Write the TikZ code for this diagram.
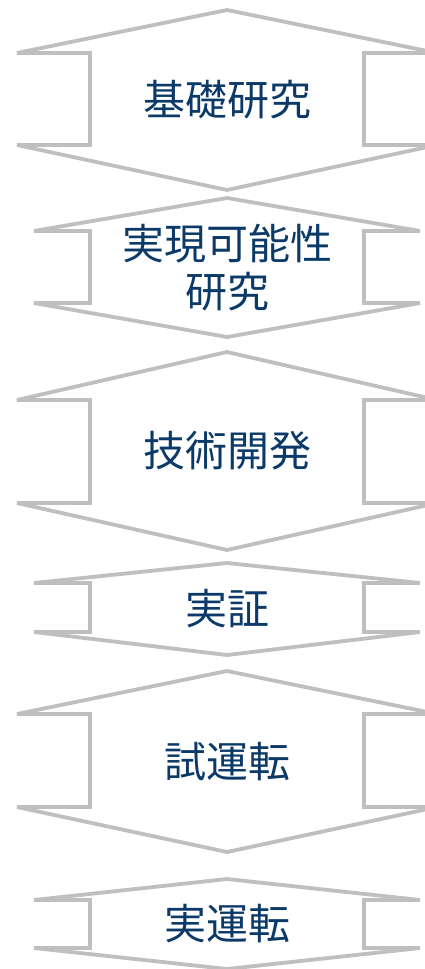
\documentclass[tikz,border=0pt]{standalone}
\usepackage{fontspec}
\setmainfont{Noto Sans CJK JP}
\definecolor{stageline}{RGB}{191,191,191}
\definecolor{stagefont}{RGB}{12,58,104}
\begin{document}
\begin{tikzpicture}[x=1pt,y=-1pt,
    stage/.style={draw=stageline,line width=3.8pt,miter limit=2},
    stagetext/.style={text=stagefont,font=\fontsize{42}{48}\selectfont,align=center}]
	\useasboundingbox (0,0) rectangle (425,969);
    % stages: top, upper notch, lower notch, bottom, half width
    \foreach \t/\a/\b/\d/\w/\name/\txt in {
        10/53/145/190/210/kiso/基礎研究,
        198/231/303/337/193/kanou/{実現可能性\\研究},
        352/400/503/550/210/gijutsu/技術開発,
        563/583/632/655/193/jissho/実証,
        671/714/807/852/210/shiunten/試運転,
        879/900/948/969/193/jitsuunten/実運転}
    {
        \draw[stage] (227,\t)--(227-\w,\a)--(90,\a)--(90,\b)--(227-\w,\b)--(227,\d)
            --(227+\w,\b)--(364,\b)--(364,\a)--(227+\w,\a)--cycle;
        \node[stagetext] (\name) at (227,{(\t+\d)/2}) {\txt};
    }
\end{tikzpicture}
\end{document}
